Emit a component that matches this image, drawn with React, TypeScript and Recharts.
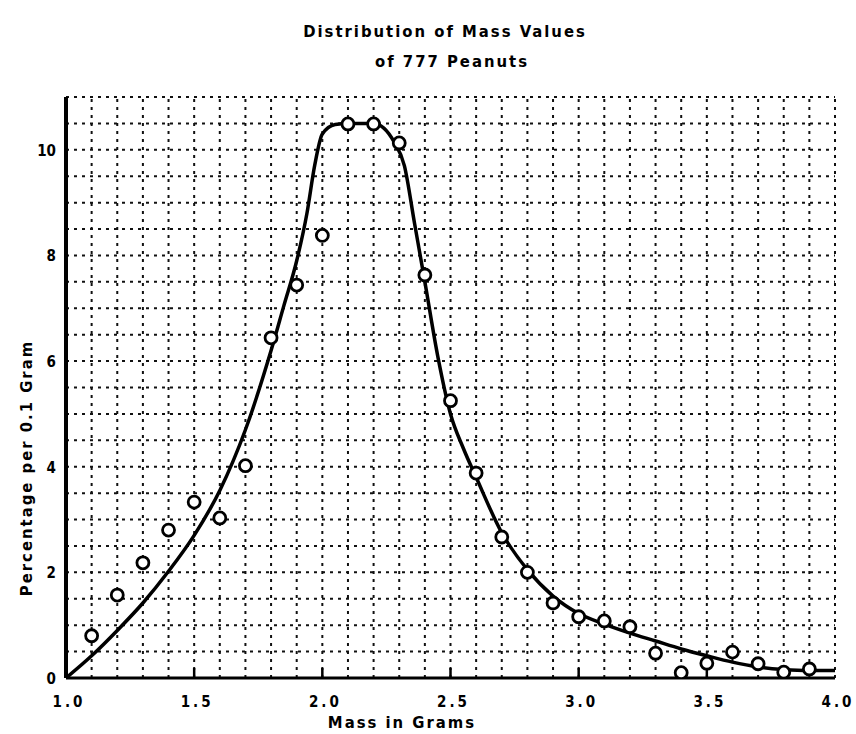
import React from 'react';
import { ComposedChart, Line, Scatter, XAxis, YAxis, ReferenceLine } from 'recharts';

// Observed mass classes (grams) and percentage per 0.1 gram (open circles)
const massGrams = [1.1, 1.2, 1.3, 1.4, 1.5, 1.6, 1.7, 1.8, 1.9, 2.0, 2.1, 2.2, 2.3, 2.4, 2.5, 2.6, 2.7, 2.8, 2.9, 3.0, 3.1, 3.2, 3.3, 3.4, 3.5, 3.6, 3.7, 3.8, 3.9];
const percentPerTenth = [0.8, 1.57, 2.18, 2.8, 3.33, 3.03, 4.02, 6.44, 7.44, 8.38, 10.49, 10.49, 10.13, 7.63, 5.25, 3.88, 2.67, 2.0, 1.42, 1.16, 1.08, 0.97, 0.47, 0.1, 0.28, 0.49, 0.27, 0.11, 0.17];

// Smooth fitted curve
const curveMass = [1.0, 1.1, 1.2, 1.3, 1.4, 1.5, 1.6, 1.7, 1.8, 1.85, 1.9, 1.94, 1.97, 2.0, 2.05, 2.1, 2.2, 2.28, 2.32, 2.36, 2.4, 2.45, 2.5, 2.55, 2.6, 2.7, 2.8, 2.9, 3.0, 3.1, 3.2, 3.3, 3.4, 3.5, 3.6, 3.7, 3.8, 3.9, 4.0];
const curvePercent = [0, 0.42, 0.9, 1.42, 2.02, 2.7, 3.55, 4.7, 6.2, 7.05, 7.9, 8.8, 9.7, 10.3, 10.48, 10.5, 10.5, 10.15, 9.7, 8.6, 7.5, 6.1, 5.0, 4.35, 3.8, 2.75, 2.05, 1.55, 1.22, 1.02, 0.85, 0.7, 0.55, 0.42, 0.3, 0.21, 0.16, 0.14, 0.14];

const xTickValues = [1.0, 1.5, 2.0, 2.5, 3.0, 3.5, 4.0];
const yTickValues = [0, 2, 4, 6, 8, 10];
const gridMass = [1.1, 1.2, 1.3, 1.4, 1.5, 1.6, 1.7, 1.8, 1.9, 2.0, 2.1, 2.2, 2.3, 2.4, 2.5, 2.6, 2.7, 2.8, 2.9, 3.0, 3.1, 3.2, 3.3, 3.4, 3.5, 3.6, 3.7, 3.8, 3.9, 4.0];
const gridPercent = [0.5, 1, 1.5, 2, 2.5, 3, 3.5, 4, 4.5, 5, 5.5, 6, 6.5, 7, 7.5, 8, 8.5, 9, 9.5, 10, 10.5, 11];

const pointData = massGrams.map((m, i) => ({ mass: m, pct: percentPerTenth[i] }));
const curveData = curveMass.map((m, i) => ({ mass: m, pct: curvePercent[i] }));

const FONT = '"DejaVu Sans Condensed", "DejaVu Sans", sans-serif';

const XTick = (props: any) => {
  const { x, y, payload } = props;
  const v = payload.value as number;
  const inner = v > 1.01 && v < 3.99;
  return (
    <g>
      {inner && <line x1={x} x2={x} y1={y - 10} y2={y} stroke="#000" strokeWidth={2.5} />}
      <text x={x + 3} y={y + 29} textAnchor="middle" fontFamily={FONT} fontWeight="bold" fontSize={15} letterSpacing={3} fill="#000">
        {v.toFixed(1)}
      </text>
    </g>
  );
};

const YTick = (props: any) => {
  const { x, y, payload } = props;
  return (
    <text x={x - 10} y={y + 6} textAnchor="end" fontFamily={FONT} fontWeight="bold" fontSize={15} fill="#000">
      {String(payload.value)}
    </text>
  );
};

const Ring = (props: any) => {
  const { cx, cy } = props;
  return <circle cx={cx} cy={cy} r={6} fill="#fff" stroke="#000" strokeWidth={2.8} />;
};

export default function App() {
  const textStyle: React.CSSProperties = {
    position: 'absolute',
    fontFamily: FONT,
    fontWeight: 'bold',
    fontSize: 16.5,
    color: '#000',
    whiteSpace: 'nowrap',
    letterSpacing: 2,
  };
  return (
    <div style={{ position: 'absolute', left: 0, top: 0, width: 856, height: 734, background: '#fff', overflow: 'hidden' }}>
      <div style={{ ...textStyle, left: 0, width: 890, top: 22, textAlign: 'center' }}>Distribution of Mass Values</div>
      <div style={{ ...textStyle, left: 0, width: 904, top: 52, textAlign: 'center' }}>of 777 Peanuts</div>
      <div style={{ ...textStyle, left: 0, width: 804, top: 713, textAlign: 'center' }}>Mass in Grams</div>
      <div
        style={{
          ...textStyle,
          left: 26,
          top: 468,
          transform: 'translate(-50%, -50%) rotate(-90deg)',
        }}
      >
        Percentage per 0.1 Gram
      </div>
      <div style={{ position: 'absolute', left: 0, top: 0 }}>
        <ComposedChart width={856} height={734} margin={{ top: 97, right: 21, bottom: 26, left: 0 }}>
          <XAxis
            type="number"
            dataKey="mass"
            domain={[1, 4]}
            ticks={xTickValues}
            interval={0}
            allowDataOverflow
            height={30}
            tickSize={0}
            tickMargin={0}
            tickLine={false}
            axisLine={{ stroke: '#000', strokeWidth: 3 }}
            tick={XTick}
          />
          <YAxis
            type="number"
            dataKey="pct"
            domain={[0, 11]}
            ticks={yTickValues}
            interval={0}
            allowDataOverflow
            width={66}
            tickSize={0}
            tickMargin={0}
            tickLine={false}
            axisLine={{ stroke: '#000', strokeWidth: 4 }}
            tick={YTick}
          />
          {gridMass.map((v) => (
            <ReferenceLine key={'gx' + v} x={v} stroke="#111" strokeWidth={2} strokeDasharray="3 5" />
          ))}
          {gridPercent.map((v) => (
            <ReferenceLine key={'gy' + v} y={v} stroke="#111" strokeWidth={2} strokeDasharray="3 5" />
          ))}
          <Line
            data={curveData}
            dataKey="pct"
            type="monotone"
            stroke="#000"
            strokeWidth={3.5}
            dot={false}
            activeDot={false}
            isAnimationActive={false}
          />
          <Scatter data={pointData} dataKey="pct" shape={Ring} isAnimationActive={false} />
        </ComposedChart>
      </div>
    </div>
  );
}
